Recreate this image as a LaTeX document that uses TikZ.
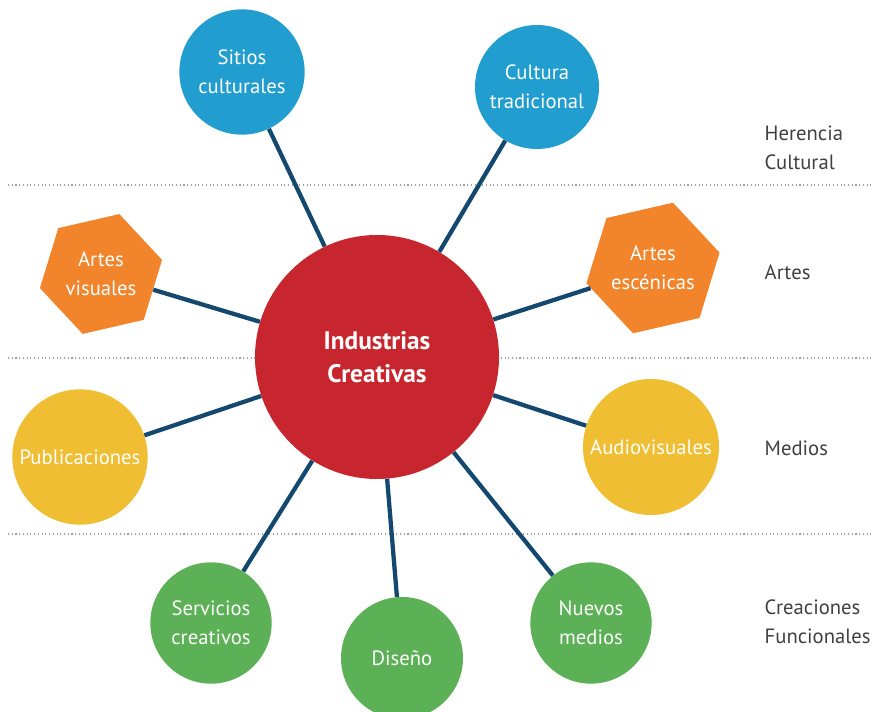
\documentclass[tikz,border=0pt]{standalone}
\usepackage{fontspec}
\setmainfont{PT Sans}
\usetikzlibrary{shapes.geometric}
\definecolor{core}{RGB}{200, 38, 46}
\definecolor{heritage}{RGB}{33, 157, 207}
\definecolor{arts}{RGB}{242, 132, 43}
\definecolor{media}{RGB}{240, 190, 50}
\definecolor{creations}{RGB}{92, 176, 86}
\definecolor{link}{RGB}{20, 72, 110}
\definecolor{label}{RGB}{64, 64, 64}
\definecolor{rule}{RGB}{160, 160, 160}

\begin{document}
\begin{tikzpicture}[x = 0.75pt, y = -0.75pt,
    bubble/.style = {circle, inner sep = 0pt, text = white, align = center, font = \fontsize{15.5}{21.5}\selectfont},
    hexa/.style = {regular polygon, regular polygon sides = 6, shape border rotate = 13, inner sep = 0pt, minimum size = 94pt, fill = arts, text = white, align = center, font = \fontsize{15.5}{21.5}\selectfont},
    group/.style = {anchor = west, align = left, text = label, font = \fontsize{15.5}{21.5}\selectfont},
    spoke/.style = {line width = 3.2pt, link}]
    \useasboundingbox (0,0) rectangle (877,712);

    % layer separators
    \draw[rule, dotted, line width = 0.8pt] (8,185) -- (872,185);
    \draw[rule, dotted, line width = 0.8pt] (8,358) -- (872,358);
    \draw[rule, dotted, line width = 0.8pt] (8,534) -- (872,534);

    \node[bubble, fill = core, minimum size = 183pt, font = \fontsize{19}{25}\selectfont\bfseries] (core) at (377,357) {Industrias\\Creativas};

    \node[bubble, fill = heritage, minimum size = 94pt] (sitios) at (242,72) {Sitios\\culturales};
    \node[bubble, fill = heritage, minimum size = 93pt] (cultura) at (537,87) {Cultura\\tradicional};
    \node[hexa] (visuales) at (101,274) {Artes\\visuales};
    \node[hexa] (escenicas) at (653,268) {Artes\\escénicas};
    \node[bubble, fill = media, minimum size = 101.5pt] (publicaciones) at (80,457) {Publicaciones};
    \node[bubble, fill = media, minimum size = 102pt] (audiovisuales) at (651,447) {Audiovisuales};
    \node[bubble, fill = creations, minimum size = 91pt] (servicios) at (211,623) {Servicios\\creativos};
    \node[bubble, fill = creations, minimum size = 91.5pt] (diseno) at (402,658) {Diseño};
    \node[bubble, fill = creations, minimum size = 91pt] (nuevos) at (591,623) {Nuevos\\medios};

    \foreach \n in {sitios, cultura, visuales, escenicas, publicaciones, audiovisuales, servicios, diseno, nuevos}
        \draw[spoke] (core) -- (\n);

    \node[group] (herencia) at (760,148) {Herencia\\Cultural};
    \node[group] (artes) at (760,272) {Artes};
    \node[group] (medios) at (760,448) {Medios};
    \node[group] (creaciones) at (760,622) {Creaciones\\Funcionales};
\end{tikzpicture}
\end{document}
